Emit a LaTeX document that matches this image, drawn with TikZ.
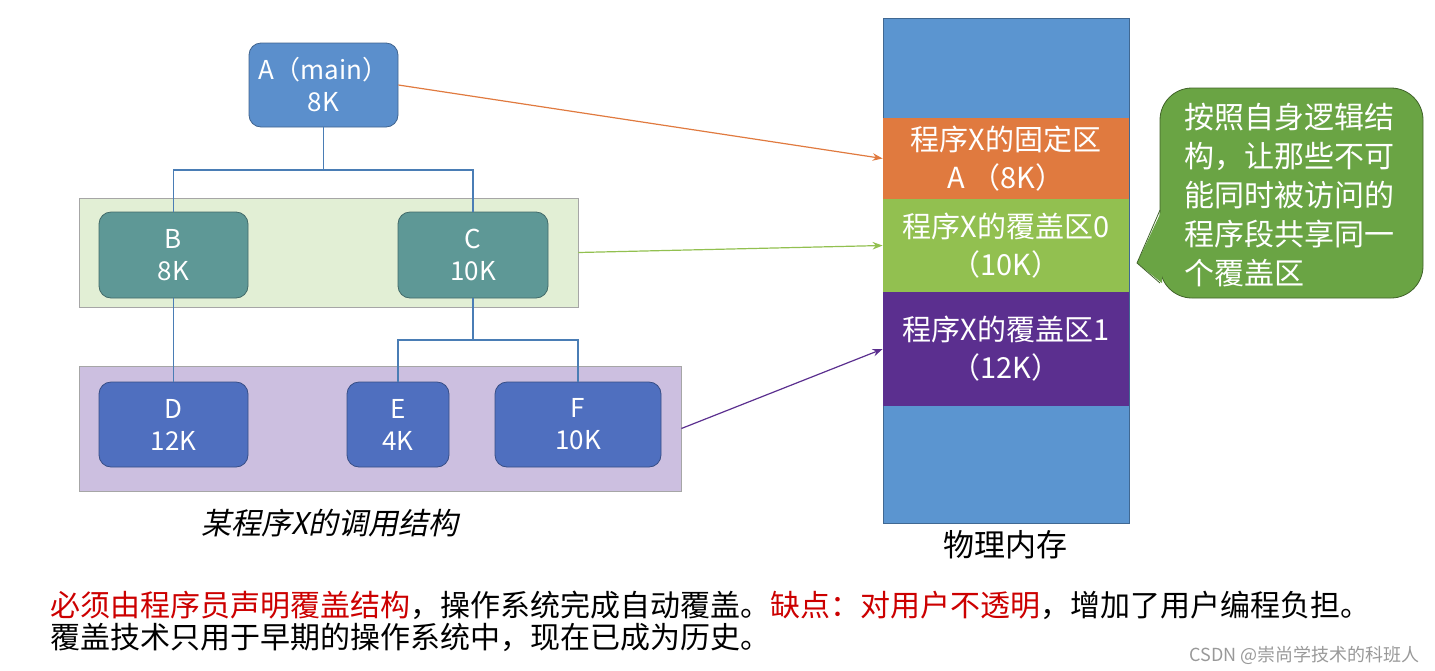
\documentclass[tikz,border=0pt]{standalone}
\usepackage{fontspec}
\setmainfont{Noto Sans CJK SC}
\newfontfamily\slantcjk{Noto Sans CJK SC}[FakeSlant=0.2]
\usetikzlibrary{arrows.meta}
\definecolor{bA}{HTML}{5B8FCC}
\definecolor{bT}{HTML}{5E9896}
\definecolor{bD}{HTML}{4F6FBF}
\definecolor{mB}{HTML}{5B95D0}
\definecolor{mO}{HTML}{E07A3F}
\definecolor{mG}{HTML}{92C050}
\definecolor{mP}{HTML}{5B2F8F}
\definecolor{cG}{HTML}{6AA444}
\definecolor{ln}{HTML}{4A7DB5}
\definecolor{gBand}{HTML}{E2EFD5}
\definecolor{pBand}{HTML}{CCBFE0}
\begin{document}
\begin{tikzpicture}[x=0.5pt,y=-0.5pt,
 box/.style={draw=#1!70!black,fill=#1,rounded corners=6pt,text=white,align=center,font=\fontsize{13}{16}\selectfont,inner sep=0pt},
 band/.style={fill=#1,draw=gray!70,inner sep=0pt},
 mem/.style={fill=#1,text=white,align=center,font=\fontsize{14.5}{19}\selectfont,inner sep=0pt,minimum width=123pt},
 tree/.style={draw=ln,line width=0.7pt},
 arr/.style={-{Stealth[length=5pt]},line width=0.6pt,draw=#1}]
\useasboundingbox (0,0) rectangle (1435,670);
\node[band=gBand, minimum width=249.5pt,minimum height=54.5pt] (gb) at (328.5,252.5) {};
\node[band=pBand, minimum width=301pt,minimum height=62.5pt] (pb) at (380,428.5) {};
\node[box=bA,minimum width=74.5pt,minimum height=42pt] (A) at (323.5,85) {A（main）\\8K};
\node[box=bT,minimum width=74.5pt,minimum height=43pt] (B) at (173.5,255) {B\\8K};
\node[box=bT,minimum width=75pt,minimum height=43pt] (C) at (473,255) {C\\10K};
\node[box=bD,minimum width=74.5pt,minimum height=42.5pt] (D) at (173.5,424.5) {D\\12K};
\node[box=bD,minimum width=51pt,minimum height=42.5pt] (E) at (398,424.5) {E\\4K};
\node[box=bD,minimum width=83pt,minimum height=42.5pt] (F) at (578,424.5) {F\\10K};
\draw[tree] (A.south) -- (323.5,170) -| (B.north);
\draw[tree] (323.5,170) -| (C.north);
\draw[tree] (B.south) -- (D.north);
\draw[tree] (C.south) -- (473,340) -| (E.north);
\draw[tree] (473,340) -| (F.north);
% memory
\node[fill=mB,draw=mB!70!black,minimum width=123pt,minimum height=252.5pt,inner sep=0pt] (M) at (1006,270.5) {};
\node[mem=mO,minimum height=40.5pt] (M0) at (1006,158.5) {程序X的固定区\\A （8K）};
\node[mem=mG,minimum height=46.5pt] (M1) at (1006,245.5) {程序X的覆盖区0\\（10K）};
\node[mem=mP,minimum height=57pt] (M2) at (1006,349) {程序X的覆盖区1\\（12K）};
\draw[arr=mO] (A.east) -- (M0.west);
\draw[arr=mG] (gb.east) -- (M1.west);
\draw[arr=mP] (pb.east) -- (M2.west);
% callout
\node[fill=cG,draw=cG!60!black,rounded corners=16pt,minimum width=131.5pt,minimum height=105pt,inner sep=0pt] (cb) at (1291.5,193) {};
\fill[cG] (1162,210) -- (1137,263) -- (1162,283) -- cycle;
\draw[cG!60!black] (1160,210) -- (1137,263) -- (1160,283);
\node[text=white,align=left,font=\fontsize{15}{19.5}\selectfont,inner sep=0pt] (call) at (1289,195) {按照自身逻辑结\\构，让那些不可\\能同时被访问的\\程序段共享同一\\个覆盖区};
\node[font=\fontsize{15}{17}\selectfont\slantcjk,inner sep=0pt] (cap1) at (330,523) {某程序X的调用结构};
\node[font=\fontsize{15.5}{17}\selectfont,inner sep=0pt] (cap2) at (1005,545) {物理内存};
\node[anchor=west,font=\fontsize{15}{18}\selectfont,inner sep=0pt] (t1) at (50,605) {\textcolor{red!80!black}{必须由程序员声明覆盖结构}，操作系统完成自动覆盖。\textcolor{red!80!black}{缺点：对用户不透明}，增加了用户编程负担。};
\node[anchor=west,font=\fontsize{15}{18}\selectfont,inner sep=0pt] (t2) at (50,637) {覆盖技术只用于早期的操作系统中，现在已成为历史。};
\node[anchor=east,font=\fontsize{9}{11}\selectfont,text=gray!80,inner sep=0pt] (wm) at (1420,655) {CSDN @崇尚学技术的科班人};
\end{tikzpicture}
\end{document}
